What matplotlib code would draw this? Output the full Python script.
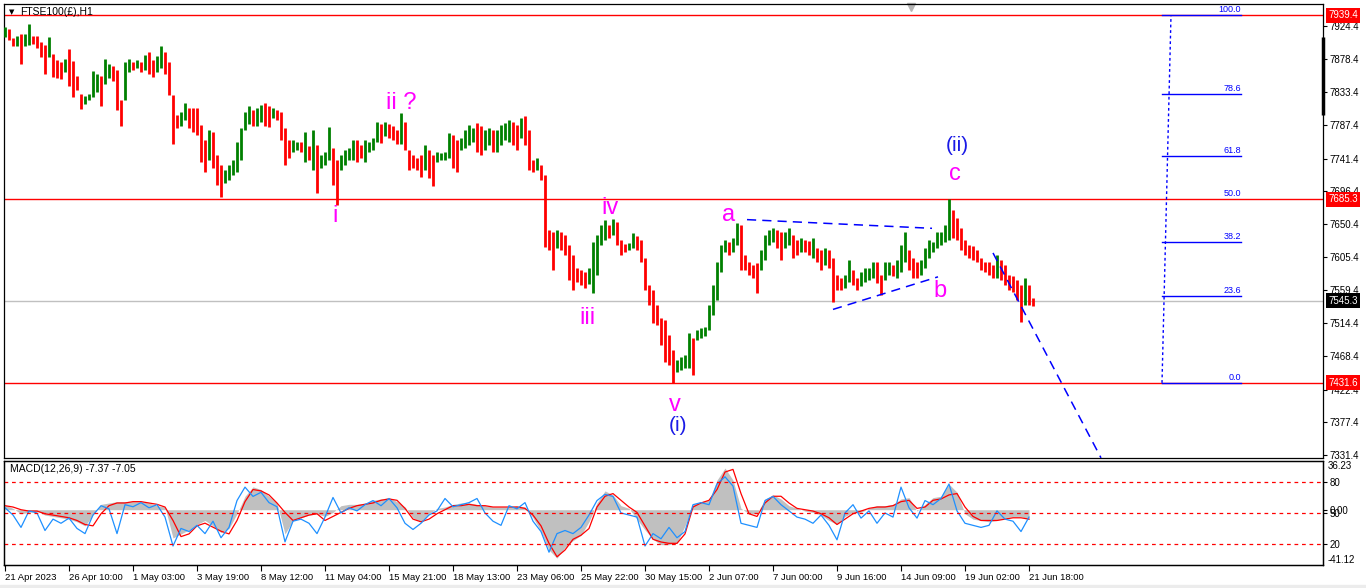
import numpy as np
import matplotlib.pyplot as plt
from matplotlib.patches import Rectangle

plt.rcParams['font.family'] = ['Liberation Sans', 'DejaVu Sans']

# H1 price envelope, one entry per 4 hourly bars
highs = [7923, 7920, 7908, 7911, 7913, 7913, 7927, 7911, 7911, 7902,
         7898, 7909, 7886, 7877, 7875, 7879, 7893, 7876, 7855, 7830,
         7828, 7830, 7862, 7858, 7855, 7879, 7872, 7869, 7864, 7822,
         7875, 7879, 7875, 7877, 7875, 7884, 7888, 7877, 7883, 7897,
         7888, 7875, 7829, 7801, 7806, 7818, 7811, 7811, 7811, 7788,
         7767, 7781, 7778, 7746, 7732, 7726, 7732, 7739, 7764, 7784,
         7806, 7814, 7808, 7811, 7815, 7818, 7814, 7811, 7808, 7806,
         7784, 7767, 7767, 7764, 7764, 7778, 7759, 7781, 7760, 7746,
         7750, 7785, 7756, 7739, 7746, 7753, 7756, 7767, 7767, 7760,
         7767, 7764, 7770, 7792, 7789, 7792, 7789, 7786, 7781, 7804,
         7792, 7753, 7746, 7742, 7746, 7760, 7753, 7746, 7750, 7749,
         7750, 7777, 7774, 7767, 7770, 7781, 7788, 7784, 7790, 7786,
         7781, 7784, 7781, 7781, 7788, 7790, 7795, 7792, 7788, 7797,
         7800, 7781, 7739, 7742, 7732, 7719, 7643, 7640, 7643, 7640,
         7636, 7622, 7608, 7590, 7587, 7585, 7590, 7626, 7636, 7650,
         7657, 7650, 7658, 7654, 7629, 7623, 7625, 7639, 7634, 7629,
         7604, 7567, 7560, 7539, 7521, 7518, 7498, 7477, 7463, 7467,
         7470, 7500, 7494, 7505, 7507, 7509, 7539, 7567, 7598, 7622,
         7629, 7626, 7632, 7652, 7650, 7608, 7598, 7594, 7597, 7615,
         7636, 7643, 7645, 7643, 7640, 7640, 7645, 7636, 7629, 7632,
         7629, 7628, 7632, 7618, 7615, 7618, 7615, 7604, 7581, 7576,
         7581, 7601, 7587, 7576, 7585, 7590, 7590, 7598, 7598, 7581,
         7598, 7598, 7594, 7601, 7622, 7640, 7615, 7604, 7598, 7601,
         7618, 7629, 7626, 7640, 7640, 7650, 7686, 7670, 7659, 7645,
         7629, 7622, 7621, 7615, 7604, 7598, 7598, 7594, 7608, 7601,
         7594, 7581, 7579, 7574, 7567, 7576, 7567, 7549]
lows = [7909, 7905, 7897, 7897, 7872, 7897, 7898, 7900, 7894, 7882,
        7858, 7882, 7854, 7853, 7851, 7861, 7842, 7826, 7836, 7810,
        7817, 7822, 7826, 7833, 7814, 7844, 7853, 7848, 7808, 7786,
        7822, 7861, 7864, 7866, 7861, 7864, 7858, 7854, 7861, 7866,
        7858, 7829, 7761, 7784, 7786, 7795, 7784, 7778, 7774, 7737,
        7723, 7739, 7728, 7705, 7688, 7708, 7712, 7719, 7723, 7739,
        7781, 7789, 7786, 7786, 7792, 7786, 7785, 7797, 7795, 7767,
        7732, 7742, 7750, 7753, 7750, 7737, 7739, 7726, 7694, 7728,
        7732, 7739, 7705, 7677, 7726, 7732, 7739, 7739, 7737, 7742,
        7737, 7750, 7753, 7764, 7763, 7772, 7770, 7767, 7761, 7761,
        7753, 7726, 7728, 7726, 7716, 7726, 7715, 7703, 7737, 7739,
        7739, 7742, 7728, 7723, 7753, 7756, 7760, 7764, 7750, 7746,
        7753, 7760, 7750, 7750, 7760, 7767, 7764, 7760, 7753, 7770,
        7760, 7726, 7723, 7726, 7712, 7619, 7615, 7587, 7618, 7615,
        7608, 7574, 7560, 7571, 7567, 7563, 7568, 7556, 7581, 7622,
        7629, 7632, 7636, 7622, 7608, 7612, 7615, 7618, 7615, 7598,
        7560, 7539, 7514, 7512, 7484, 7460, 7456, 7432, 7447, 7449,
        7452, 7452, 7442, 7491, 7494, 7496, 7505, 7525, 7546, 7585,
        7612, 7608, 7612, 7622, 7587, 7587, 7581, 7576, 7556, 7587,
        7601, 7622, 7626, 7618, 7601, 7618, 7622, 7604, 7608, 7612,
        7612, 7608, 7604, 7598, 7587, 7594, 7590, 7543, 7560, 7560,
        7563, 7571, 7567, 7560, 7565, 7571, 7574, 7576, 7570, 7553,
        7574, 7581, 7579, 7576, 7585, 7598, 7587, 7576, 7576, 7581,
        7590, 7604, 7612, 7618, 7622, 7626, 7629, 7632, 7629, 7615,
        7608, 7604, 7601, 7598, 7587, 7585, 7581, 7576, 7576, 7574,
        7567, 7560, 7557, 7546, 7516, 7539, 7539, 7538]

# MACD panel, one entry per 8 hourly bars
macd_hist = [3.5, 1, -3, -2, -1, -4, -5, -6, -7, -9,
             -12, -4, 4, 5, 6, 6, 6, 6, 5, 3,
             2, -21, -18, -15, -11, -8, -12, -17, -14, -3,
             10, 17, 15, 10, 5, -18, -8, -6, -4, -3,
             -5, -2, 3, 4, 4, 5, 7, 8, 9, 6,
             2, -6, -9, -3, 1, 2, 4, 5, 5, 4,
             3, 2, 2, 2, 3, 2, -6, -16, -30, -36,
             -28, -23, -19, -9, 5, 14, 11, 3, 1, -7,
             -15, -22, -26, -26, -25, -12, 4, 6, 7, 22,
             31, 22, 1, -3, -3, 8, 11, 8, 3, 1,
             -1, -2, -4, -8, -11, -5, -2, -2, 1, 3,
             3, 4, 8, 9, -1, 4, 9, 10, 19, 13,
             -3, -7, -8, -9, -8, -6, -5, -5, -7.37]
macd_signal = [3, 2, 0, -1, -1, -3, -4, -5, -6, -8,
               -11, -12, -3, 3, 5, 5, 6, 6, 5, 4,
               2, -8, -20, -18, -12, -10, -13, -16, -18, -8,
               6, 15, 14, 11, 5, -2, -8, -6, -4, -3,
               -8, -5, -2, 1, 3, 4, 5, 7, 8, 7,
               1, -7, -9, -7, -3, 0, 3, 3, 4, 3,
               3, 2, 2, 2, 2, 1, -4, -12, -25, -35,
               -30, -22, -19, -14, 2, 10, 12, 7, 2, -2,
               -12, -22, -24, -25, -25, -18, 2, 5, 7, 15,
               28, 30, 12, -3, -5, 5, 10, 10, 5, 1,
               0, -1, -3, -6, -11, -7, -3, -1, 1, 2,
               2, 3, 6, 7, 1, 2, 7, 8, 11, 12,
               2, -5, -8, -8, -8, -7, -6, -6, -7.05]
osc = [55, 48, 36, 52, 50, 33, 44, 40, 45, 35,
       30, 48, 57, 54, 30, 58, 56, 60, 55, 58,
       46, 18, 35, 32, 38, 30, 42, 26, 36, 62,
       75, 66, 70, 60, 56, 22, 42, 44, 40, 30,
       46, 65, 50, 55, 52, 58, 62, 57, 64, 55,
       40, 34, 40, 48, 52, 64, 56, 58, 60, 64,
       50, 42, 38, 57, 54, 60, 42, 32, 12, 30,
       33, 30, 36, 48, 62, 68, 66, 50, 48, 46,
       18, 30, 25, 36, 26, 32, 58, 60, 58, 78,
       85, 76, 40, 38, 36, 62, 66, 58, 52, 46,
       44, 40, 48, 38, 24, 50, 58, 45, 52, 40,
       50, 46, 75, 55, 45, 62, 58, 64, 78, 52,
       40, 38, 36, 38, 52, 44, 42, 32, 46]

date_labels = ['21 Apr 2023', '26 Apr 10:00', '1 May 03:00', '3 May 19:00',
               '8 May 12:00', '11 May 04:00', '15 May 21:00', '18 May 13:00',
               '23 May 06:00', '25 May 22:00', '30 May 15:00', '2 Jun 07:00',
               '7 Jun 00:00', '9 Jun 16:00', '14 Jun 09:00', '19 Jun 02:00',
               '21 Jun 18:00']
price_ticks = [7924.4, 7878.4, 7833.4, 7787.4, 7741.4, 7696.4, 7650.4,
               7605.4, 7559.4, 7514.4, 7468.4, 7422.4, 7377.4, 7331.4]
fib_levels = [100.0, 78.6, 61.8, 50.0, 38.2, 23.6, 0.0]
fib_high = 7939.4
fib_low = 7431.6
bid = 7545.3

W, H = 1366, 588
fig = plt.figure(figsize=(W / 100, H / 100), dpi=100)
fig.patch.set_facecolor('white')


def rect(x0, y0, x1, y1):
    return [x0 / W, 1 - y1 / H, (x1 - x0) / W, (y1 - y0) / H]


ax = fig.add_axes(rect(4, 4, 1323, 458))
axm = fig.add_axes(rect(4, 461, 1323, 565))
fig.patches.append(Rectangle((0, 0), 1, 3 / H, transform=fig.transFigure,
                             color='#ececec', zorder=0))

# ---- price bars
hi = np.array(highs)
lo = np.array(lows)
x = np.arange(len(hi))
mid = (hi + lo) / 2
up = np.r_[True, mid[1:] >= mid[:-1]]
cols = np.where(up, '#008000', '#ff0000')
ax.vlines(x, lo, hi, colors=cols, linewidth=2.0, zorder=3)

xmin, xmax = -0.25, 329.5
ax.set_xlim(xmin, xmax)
ax.set_ylim(7327.8, 7954.8)

# horizontal lines
for lvl in (fib_high, 7685.3, fib_low):
    ax.axhline(lvl, color='#ff0000', lw=1, zorder=2)
ax.axhline(bid, color='#c0c0c0', lw=1, zorder=1)

# fibonacci
rng = fib_high - fib_low
for lev in fib_levels:
    p = fib_low + lev / 100 * rng
    if lev != 50.0:
        ax.plot([289.25, 309], [p, p], color='#0000ff', lw=1, zorder=4)
    ax.text(309, p + 1.5, f'{lev:.1f}', ha='right', va='bottom',
            color='#0000ff', fontsize=6.5, zorder=4)
ax.plot([289.25, 291.5], [fib_low, fib_high], color='#0000ff', lw=1,
        ls=(0, (2, 2)), zorder=4)

# trend lines
dash = (0, (6, 4))
ax.plot([185.5, 231.75], [7657, 7645], color='#0000ff', lw=1.1, ls=dash, zorder=4)
ax.plot([207, 233.25], [7533, 7578], color='#0000ff', lw=1.1, ls=dash, zorder=4)
ax.plot([247, 274], [7611, 7328], color='#0000ff', lw=1.1, ls=dash, zorder=4)

# wave labels
mag = '#ff00ff'
blu = '#1a1ae6'
waves = [('ii ?', 99, 7818, mag), ('i', 82.5, 7662, mag), ('iv', 151.25, 7673, mag),
         ('iii', 145.5, 7521, mag), ('a', 181, 7663, mag), ('v', 167.5, 7401, mag),
         ('c', 237.5, 7720, mag), ('b', 233.75, 7558, mag)]
for t, wx, wy, c in waves:
    ax.text(wx, wy, t, color=c, fontsize=17, ha='center', va='center', zorder=5)
ax.text(168.25, 7373, '(i)', color=blu, fontsize=15, ha='center', va='center', zorder=5)
ax.text(238, 7759, '(ii)', color=blu, fontsize=15, ha='center', va='center', zorder=5)

# title
ax.text(0.006, 0.982, '\u25bc', transform=ax.transAxes, fontsize=5,
        va='center', ha='center', family=['DejaVu Sans'])
ax.text(0.0121, 0.982, 'FTSE100(\u00a3),H1', transform=ax.transAxes, fontsize=7.5,
        va='center', ha='left', zorder=6)
ax.plot(0.688, 0.993, marker='v', color='#b4b4b4', ms=6, transform=ax.transAxes,
        clip_on=False)

# right price scale
ax.set_xticks([])
ax.yaxis.tick_right()
ax.set_yticks(price_ticks)
ax.set_yticklabels([f'{v:.1f}' for v in price_ticks])
ax.tick_params(axis='y', labelsize=7, length=3, width=0.8, pad=2, direction='out')
ytr = ax.get_yaxis_transform()
for val, fc in ((fib_high, '#ff0000'), (7685.3, '#ff0000'), (fib_low, '#ff0000'),
                (bid, '#000000')):
    ax.text(1 + 5 / 1319, val, f'{val:.1f}', transform=ytr, ha='left', va='center',
            fontsize=7, color='white', clip_on=False, zorder=10,
            bbox=dict(boxstyle='square,pad=0.25', fc=fc, ec='none'))
ax.plot([1, 1], [7909, 7801], transform=ytr, color='black', lw=2.5,
        clip_on=False, solid_capstyle='butt')

# ---- MACD panel
xm = np.arange(len(macd_hist)) * 2
axm.fill_between(xm, 0, macd_hist, color='#c0c0c0', lw=0, zorder=1)
axm.plot(xm, macd_signal, color='#ff0000', lw=0.9, zorder=3)
axm.set_xlim(xmin, xmax)
axm.set_ylim(-41.12, 36.23)
ax2 = axm.twinx()
ax2.set_ylim(-0.4, 100.3)
ax2.plot(xm, osc, color='#1e90ff', lw=0.9, zorder=2)
for lev in (20, 50, 80):
    ax2.axhline(lev, color='#ff0000', lw=0.9, ls=(0, (3, 3)))
ax2.set_yticks([20, 50, 80])
ax2.set_yticklabels(['20', '50', '80'])
ax2.tick_params(axis='y', labelsize=7, length=3, width=0.8, pad=2)
axm.yaxis.tick_right()
axm.set_yticks([0])
axm.set_yticklabels(['0.00'])
axm.tick_params(axis='y', labelsize=7, length=3, width=0.8, pad=2)
mtr = axm.get_yaxis_transform()
axm.text(1 + 5 / 1319, 36.23, '36.23', transform=mtr, va='top', ha='left', fontsize=7)
axm.text(1 + 5 / 1319, -41.12, '-41.12', transform=mtr, va='bottom', ha='left', fontsize=7)
axm.text(0.0045, 0.92, 'MACD(12,26,9) -7.37 -7.05', transform=axm.transAxes,
         fontsize=7.5, va='center', ha='left')

axm.set_xticks(np.arange(len(date_labels)) * 16)
axm.set_xticklabels(date_labels)
axm.tick_params(axis='x', labelsize=6.8, length=4, width=0.8, pad=2)
for lbl in axm.get_xticklabels():
    lbl.set_ha('left')

for a in (ax, axm, ax2):
    for s in a.spines.values():
        s.set_linewidth(0.9)
        s.set_color('black')

fig.savefig('out.png', dpi=100)
